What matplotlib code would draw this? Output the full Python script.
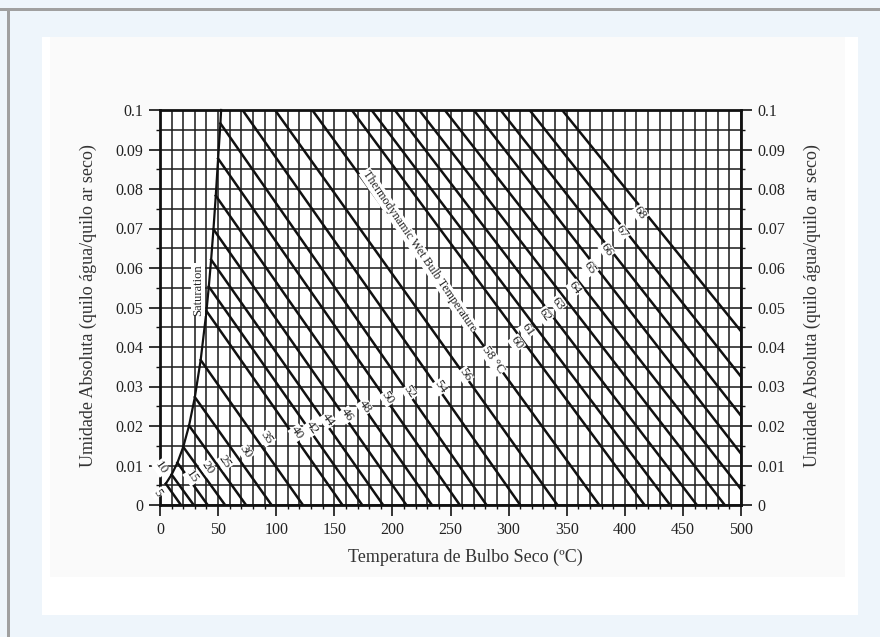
import matplotlib
matplotlib.use("Agg")
import matplotlib.pyplot as plt
from matplotlib.patches import Rectangle

# ---------------- data ----------------
wb_labels = ['5', '10', '15', '20', '25', '30', '35', '40', '42', '44', '46', '48', '50',
             '52', '54', '56', '58 °C', '60', '61', '62', '63', '64', '65', '66', '67', '68']
# wet-bulb lines: start point (upper-left) and end point (lower-right)
line_x0 = [5, 10, 15, 20, 25, 30, 35, 40, 42, 44, 46, 48, 50,
           52, 71, 99, 131, 165, 182, 202, 223, 245, 270, 293, 318, 346]
line_y0 = [0.0054, 0.0077, 0.0107, 0.0147, 0.0201, 0.0273, 0.0367, 0.0491, 0.0553, 0.0621,
           0.0698, 0.0783, 0.0877, 0.0966, 0.1, 0.1, 0.1, 0.1, 0.1, 0.1, 0.1, 0.1, 0.1, 0.1, 0.1, 0.1]
line_x1 = [18, 29, 41, 56, 74, 96, 123, 157, 174, 192, 212, 234, 258,
           281, 310, 342, 378, 417, 439, 462, 486, 500, 500, 500, 500, 500]
line_y1 = [0, 0, 0, 0, 0, 0, 0, 0, 0, 0, 0, 0, 0,
           0, 0, 0, 0, 0, 0, 0, 0, 0.004, 0.013, 0.0226, 0.0325, 0.044]
# label positions
label_x = [-1.7, 0.9, 27.5, 41.3, 56, 74, 92, 118, 131, 144.6, 161, 176.4, 196,
           215, 241, 262.5, 286.6, 307, 316, 331, 342.5, 357, 370, 384.7, 397.6, 413]
label_y = [0.0030, 0.0094, 0.0071, 0.0094, 0.0109, 0.0134, 0.0170, 0.0182, 0.0195, 0.0215,
           0.0228, 0.0248, 0.0271, 0.0286, 0.0299, 0.0329, 0.0367, 0.0410, 0.0443, 0.0481,
           0.0511, 0.0549, 0.0600, 0.0646, 0.0691, 0.0739]
# saturation curve
sat_T = [5, 10, 15, 20, 25, 30, 35, 40, 42, 44, 46, 48, 50, 52, 52.6]
sat_Y = [0.0054, 0.0077, 0.0107, 0.0147, 0.0201, 0.0273, 0.0367, 0.0491, 0.0553, 0.0621,
         0.0698, 0.0783, 0.0877, 0.0966, 0.1]

x_ticks = [0, 50, 100, 150, 200, 250, 300, 350, 400, 450, 500]
y_ticks = [0, 0.01, 0.02, 0.03, 0.04, 0.05, 0.06, 0.07, 0.08, 0.09, 0.1]
y_tick_labels = ['0', '0.01', '0.02', '0.03', '0.04', '0.05', '0.06', '0.07', '0.08', '0.09', '0.1']
x_minor = list(range(0, 501, 10))
y_minor = [i * 0.005 for i in range(21)]

xlabel = 'Temperatura de Bulbo Seco (ºC)'
ylabel = 'Umidade Absoluta (quilo água/quilo ar seco)'

# ---------------- figure ----------------
plt.rcParams['font.family'] = ['Liberation Serif', 'DejaVu Serif']
W, H = 880, 637
fig = plt.figure(figsize=(W / 100, H / 100), dpi=100, facecolor='#eef5fb')


def px_rect(x0, y0, x1, y1, color):
    fig.patches.append(Rectangle((x0 / W, 1 - y1 / H), (x1 - x0) / W, (y1 - y0) / H,
                                 transform=fig.transFigure, facecolor=color,
                                 edgecolor='none', zorder=-10))


px_rect(0, 8, W, 11, '#a0a0a0')
px_rect(7, 8, 10, H, '#a0a0a0')
px_rect(42, 37, 858, 615, '#ffffff')
px_rect(50, 37, 845, 577, '#fafafa')

ax = fig.add_axes([160 / W, (H - 505) / H, 581 / W, 395 / H])
ax.set_zorder(5)
ax.set_facecolor('white')
ax.set_xlim(0, 500)
ax.set_ylim(0, 0.1)

ax.set_xticks(x_ticks)
ax.set_xticks(x_minor, minor=True)
ax.set_yticks(y_ticks)
ax.set_yticklabels(y_tick_labels)
ax.set_yticks(y_minor, minor=True)
ax.grid(which='both', color='#222222', lw=1.15)
ax.set_axisbelow(True)
ax.tick_params(which='major', direction='out', length=8, width=1.2, color='#111',
               labelsize=11.5, labelcolor='#222', left=True, right=True,
               labelleft=True, labelright=True, pad=4)
ax.tick_params(which='minor', direction='out', length=3, width=1.0, color='#111',
               left=True, right=True)
for s in ax.spines.values():
    s.set_linewidth(2.0)
    s.set_color('#111')

# saturation curve
ax.plot(sat_T, sat_Y, color='#111', lw=1.6, zorder=3, clip_on=False)

# wet-bulb lines
for x0, y0, x1, y1 in zip(line_x0, line_y0, line_x1, line_y1):
    ax.plot([x0, x1], [y0, y1], color='#111', lw=1.8, zorder=3)

# line labels
for s, lx, ly in zip(wb_labels, label_x, label_y):
    ax.text(lx, ly, s, rotation=-55, rotation_mode='anchor', ha='center', va='center',
            fontsize=9.5, color='#222', zorder=5, clip_on=False,
            bbox=dict(facecolor='white', edgecolor='none', pad=0.5))

ax.text(223, 0.0643, 'Thermodynamic Wet Bulb Temperature', rotation=-55.6,
        rotation_mode='anchor', ha='center', va='center', fontsize=8.7, color='#222',
        zorder=5, bbox=dict(facecolor='white', edgecolor='none', pad=0.6))
ax.text(32.7, 0.0545, 'Saturation', rotation=90, rotation_mode='anchor', ha='center',
        va='center', fontsize=9, color='#222', zorder=5,
        bbox=dict(facecolor='white', edgecolor='none', pad=0.6))

fig.text(465 / W, 1 - 557 / H, xlabel, ha='center', va='center', fontsize=13, color='#333')
fig.text(88 / W, 1 - 306 / H, ylabel, ha='center', va='center', rotation=90,
         fontsize=13, color='#333')
fig.text(812 / W, 1 - 306 / H, ylabel, ha='center', va='center', rotation=90,
         fontsize=13, color='#333')

fig.savefig('out.png', dpi=100, facecolor=fig.get_facecolor())
